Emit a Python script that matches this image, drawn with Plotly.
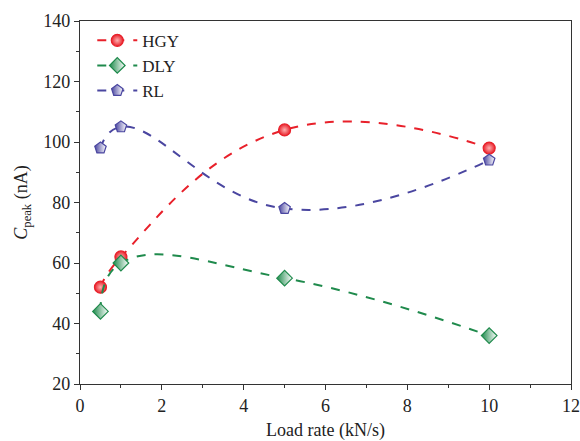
import plotly.graph_objects as go

load_rate = [0.5, 1, 5, 10]
hgy = [52, 62, 104, 98]
dly = [44, 60, 55, 36]
rl = [98, 105, 78, 94]

series = [
    ("HGY", hgy, "#e8202a", "circle", "radial", "#ffb0b0"),
    ("DLY", dly, "#1f8a4c", "diamond", "horizontal", "#ffffff"),
    ("RL", rl, "#4a46a0", "pentagon", "horizontal", "#ffffff"),
]

fig = go.Figure()
for name, vals, col, sym, gtype, gcol in series:
    fig.add_trace(go.Scatter(
        x=load_rate, y=vals, name=name, mode="lines+markers",
        line=dict(color=col, width=2, dash="dash", shape="spline", smoothing=1.3),
        marker=dict(symbol=sym, size=12, color=col,
                    gradient=dict(type=gtype, color=gcol),
                    line=dict(color=col, width=1.2)),
    ))

font = "Liberation Serif, Times New Roman, serif"
fig.update_layout(
    width=580, height=441,
    margin=dict(l=80, r=9, t=21, b=57),
    paper_bgcolor="white", plot_bgcolor="white",
    font=dict(family=font, size=18, color="#222"),
    showlegend=True,
    legend=dict(x=0.025, y=0.995, xanchor="left", yanchor="top",
                bgcolor="rgba(0,0,0,0)", font=dict(size=17),
                itemwidth=40, tracegroupgap=0),
)
fig.update_xaxes(
    range=[0, 12], tickvals=[0, 2, 4, 6, 8, 10, 12], automargin=False,
    ticklabeloverflow="allow",
    title=dict(text="Load rate (kN/s)", font=dict(size=18), standoff=14),
    showline=True, linecolor="#333", linewidth=1.2, mirror=True,
    ticks="outside", ticklen=5, tickcolor="#333",
    minor=dict(dtick=1, ticks="outside", ticklen=3, tickcolor="#333"),
    showgrid=False, zeroline=False,
)
fig.update_yaxes(
    range=[20, 140], tickvals=[20, 40, 60, 80, 100, 120, 140], automargin=False,
    title=dict(text="<i>C</i><sub>peak</sub> (nA)", font=dict(size=18), standoff=10),
    showline=True, linecolor="#333", linewidth=1.2, mirror=True,
    ticks="outside", ticklen=5, tickcolor="#333",
    minor=dict(dtick=10, ticks="outside", ticklen=3, tickcolor="#333"),
    showgrid=False, zeroline=False,
)
fig.write_html("out.html", config={"displayModeBar": False},
               post_script="document.body.style.margin='0';")
